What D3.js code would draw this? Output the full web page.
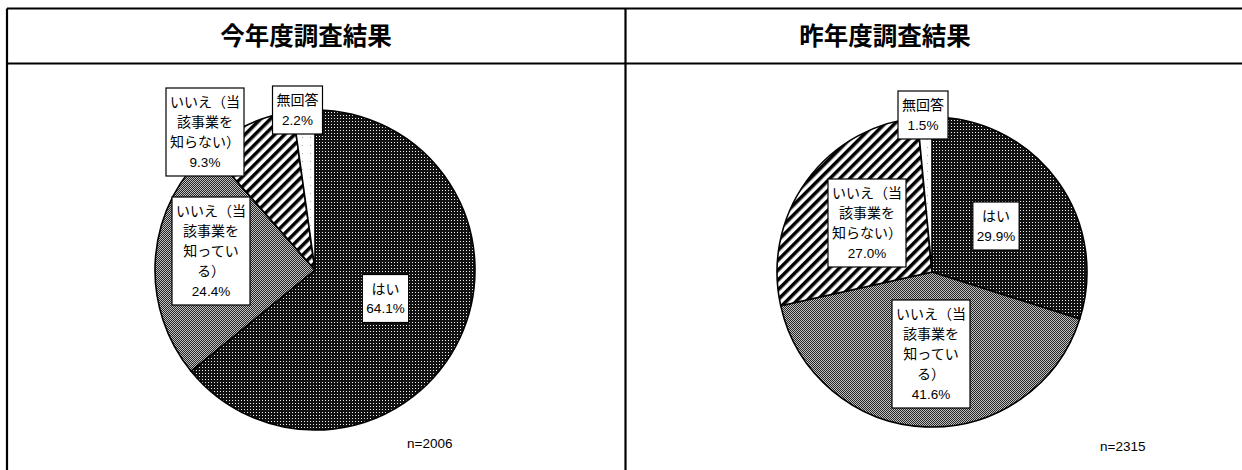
<!DOCTYPE html>
<html><head><meta charset="utf-8">
<script src="https://cdn.jsdelivr.net/npm/d3@7"></script>
<style>
html,body{margin:0;padding:0;background:#fff;}
svg{display:block;}
</style></head>
<body>
<svg id="chart" width="1242" height="470"></svg>
<script>
// ---- data ----
const panelTitles = ["今年度調査結果", "昨年度調査結果"];
const categories = ["はい", "いいえ（当該事業を知っている）", "いいえ（当該事業を知らない）", "無回答"];
const thisYearValues = [64.1, 24.4, 9.3, 2.2];
const lastYearValues = [29.9, 41.6, 27.0, 1.5];
const sampleSizes = ["n=2006", "n=2315"];
const labelLines = [
  ["はい"],
  ["いいえ（当", "該事業を", "知ってい", "る）"],
  ["いいえ（当", "該事業を", "知らない）"],
  ["無回答"]
];

// ---- layout ----
const panels = [
  {cx: 315, cy: 270, r: 160, values: thisYearValues,
   labelOffsets: [[70.5, 28.5], [-104, -19], [-110, -138], [-17.5, -160]],
   nPos: [407, 448]},
  {cx: 932, cy: 272, r: 155, values: lastYearValues,
   labelOffsets: [[64, -46], [-1, 82], [-65, -49], [-9, -157]],
   nPos: [1100, 451]}
];
const titleCenters = [306, 885];
const fills = ["url(#pDark)", "url(#pGrey)", "url(#pStripe)", "url(#pLight)"];

const svg = d3.select("#chart");
const defs = svg.append("defs");

// dark dotted pattern
const p1 = defs.append("pattern").attr("id", "pDark").attr("patternUnits", "userSpaceOnUse").attr("width", 3).attr("height", 3);
p1.append("rect").attr("width", 3).attr("height", 3).attr("fill", "#111");
p1.append("rect").attr("x", 1).attr("y", 1).attr("width", 1).attr("height", 1).attr("fill", "#f0f0f0");
// grey checker pattern
const p2 = defs.append("pattern").attr("id", "pGrey").attr("patternUnits", "userSpaceOnUse").attr("width", 2).attr("height", 2);
p2.append("rect").attr("width", 2).attr("height", 2).attr("fill", "#c0c0c0");
p2.append("rect").attr("x", 0).attr("y", 0).attr("width", 1).attr("height", 1).attr("fill", "#262626");
p2.append("rect").attr("x", 1).attr("y", 1).attr("width", 1).attr("height", 1).attr("fill", "#262626");
// diagonal stripes
const p3 = defs.append("pattern").attr("id", "pStripe").attr("patternUnits", "userSpaceOnUse").attr("width", 7).attr("height", 7)
  .attr("patternTransform", "rotate(45)");
p3.append("rect").attr("width", 7).attr("height", 7).attr("fill", "#fff");
p3.append("rect").attr("width", 3.5).attr("height", 7).attr("fill", "#000");
// light sparse dots
const p4 = defs.append("pattern").attr("id", "pLight").attr("patternUnits", "userSpaceOnUse").attr("width", 8).attr("height", 8);
p4.append("rect").attr("width", 8).attr("height", 8).attr("fill", "#fff");
p4.append("rect").attr("x", 3).attr("y", 3).attr("width", 1).attr("height", 1).attr("fill", "#aaa");

// ---- frame ----
const frame = svg.append("g").attr("stroke", "#000").attr("stroke-width", 2.2).attr("fill", "none");
frame.append("line").attr("x1", 7).attr("x2", 1250).attr("y1", 8.5).attr("y2", 8.5);
frame.append("line").attr("x1", 7).attr("x2", 1250).attr("y1", 63.5).attr("y2", 63.5);
frame.append("line").attr("x1", 7).attr("x2", 7).attr("y1", 8.5).attr("y2", 480);
frame.append("line").attr("x1", 625.5).attr("x2", 625.5).attr("y1", 8.5).attr("y2", 480);

const pie = d3.pie().sort(null).value(d => d);
const font = "'Noto Sans CJK JP', 'Noto Sans', sans-serif";

panels.forEach((p, pi) => {
  svg.append("text")
    .attr("x", titleCenters[pi]).attr("y", 45)
    .attr("text-anchor", "middle")
    .attr("font-family", font).attr("font-weight", "bold").attr("font-size", 24.5)
    .text(panelTitles[pi]);

  const arc = d3.arc().innerRadius(0).outerRadius(p.r);
  const g = svg.append("g").attr("transform", `translate(${p.cx},${p.cy})`);
  const arcs = pie(p.values);
  g.selectAll("path").data(arcs).join("path")
    .attr("d", arc)
    .attr("fill", (d, i) => fills[i])
    .attr("stroke", "#000").attr("stroke-width", 1.6).attr("stroke-linejoin", "round");

  // labels
  arcs.forEach((d, i) => {
    const lines = labelLines[i].concat([d3.format(".1f")(p.values[i]) + "%"]);
    const lh = 20, padV = 4;
    const lg = g.append("g").attr("transform", `translate(${p.labelOffsets[i][0]},${p.labelOffsets[i][1]})`);
    const rect = lg.append("rect").attr("fill", "#fff").attr("stroke", "#000").attr("stroke-width", 1.2);
    const h = lines.length * lh + padV * 2;
    const txt = lg.append("g");
    lines.forEach((ln, k) => {
      const isNum = k === lines.length - 1;
      txt.append("text")
        .attr("x", 0).attr("y", -h / 2 + padV + lh * k + lh / 2)
        .attr("dy", "0.36em")
        .attr("text-anchor", "middle")
        .attr("font-family", isNum ? "'Liberation Sans', Arial, sans-serif" : font)
        .attr("font-size", isNum ? 13.5 : 14)
        .attr("fill", "#000")
        .text(ln);
    });
    const w = Math.max(txt.node().getBBox().width + 8, 43);
    rect.attr("x", -w / 2).attr("y", -h / 2).attr("width", w).attr("height", h);
  });

  svg.append("text")
    .attr("x", p.nPos[0]).attr("y", p.nPos[1])
    .attr("font-family", "'Liberation Sans', Arial, sans-serif").attr("font-size", 13.5)
    .text(sampleSizes[pi]);
});
</script>
</body></html>
